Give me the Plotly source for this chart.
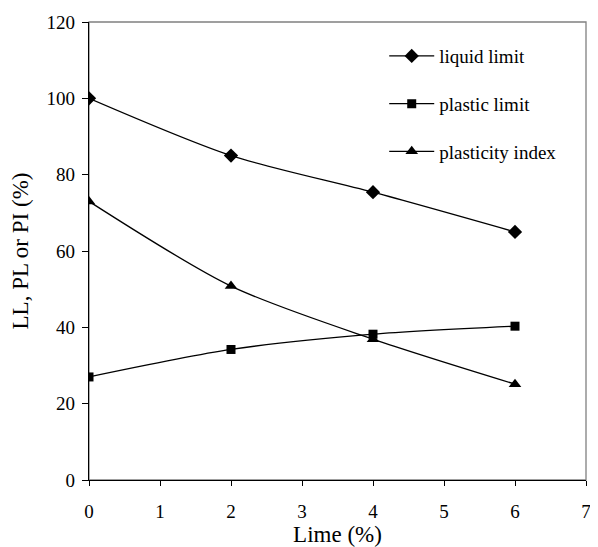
import plotly.graph_objects as go

lime = [0, 2, 4, 6]
liquid_limit = [100, 85, 75.4, 65]
plastic_limit = [27, 34.2, 38.2, 40.3]
plasticity_index = [73, 50.8, 36.9, 25.1]

FONT = "Liberation Serif"

fig = go.Figure()
series = [
    ("liquid limit", liquid_limit, "diamond", 11),
    ("plastic limit", plastic_limit, "square", 9),
    ("plasticity index", plasticity_index, "triangle-up", 11),
]
for i, (name, vals, sym, sz) in enumerate(series):
    fig.add_trace(go.Scatter(
        x=lime, y=vals, name=name, mode="lines+markers",
        line=dict(color="black", width=1.3, shape="spline", smoothing=0.8),
        marker=dict(symbol=sym, size=sz, color="black"),
        legendgroup=f"g{i}",
    ))

# page body has an 8px margin, so the figure is 590x539 to fill the 598x547 window
fig.update_layout(
    width=590, height=539,
    margin=dict(l=81, r=12, t=14, b=67, autoexpand=False),
    paper_bgcolor="white", plot_bgcolor="white",
    font=dict(family=FONT, size=19, color="black"),
    showlegend=True,
    legend=dict(x=0.594, y=0.967, xanchor="left", yanchor="top",
                bgcolor="rgba(0,0,0,0)", tracegroupgap=20, itemwidth=45,
                traceorder="grouped", font=dict(family=FONT, size=19)),
    xaxis=dict(range=[0, 7], dtick=1, tick0=0, showgrid=False, zeroline=False,
               showline=True, linecolor="black", linewidth=1.3,
               ticks="outside", ticklen=5, tickcolor="black", automargin=False,
               ticklabelstandoff=9,
               title=dict(text="Lime (%)", standoff=9)),
    yaxis=dict(range=[0, 120], dtick=20, tick0=0, showgrid=False, zeroline=False,
               showline=True, linecolor="black", linewidth=1.3,
               ticks="outside", ticklen=6, tickcolor="black", automargin=False,
               ticklabelstandoff=3,
               title=dict(text="LL, PL or PI (%)", standoff=12)),
    shapes=[dict(type="rect", xref="paper", yref="paper", x0=0, y0=0, x1=1, y1=1,
                 line=dict(color="#808080", width=1.3), layer="below")],
)

fig.write_html("out.html")
